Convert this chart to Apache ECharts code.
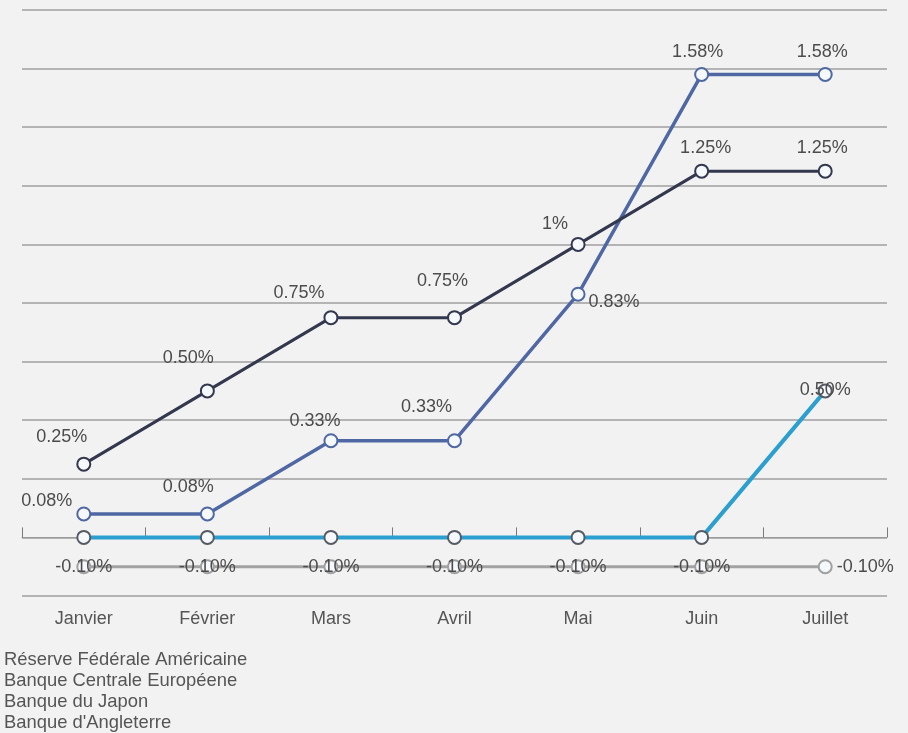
<!DOCTYPE html>
<html>
<head>
<meta charset="utf-8">
<style>
  html, body { margin: 0; padding: 0; background: #f2f2f2; }
  #chart { width: 908px; height: 733px; }
</style>
<script src="https://cdn.jsdelivr.net/npm/echarts@6/dist/echarts.min.js"></script>
</head>
<body>
<div id="chart"></div>
<script>
// Months shown on the horizontal axis
var months = ['Janvier', 'Février', 'Mars', 'Avril', 'Mai', 'Juin', 'Juillet'];

// Policy rates (%) per central bank
var fedRates = [0.25, 0.50, 0.75, 0.75, 1, 1.25, 1.25];
var ecbRates = [0, 0, 0, 0, 0, 0, 0.50];
var bojRates = [-0.10, -0.10, -0.10, -0.10, -0.10, -0.10, -0.10];
var boeRates = [0.08, 0.08, 0.33, 0.33, 0.83, 1.58, 1.58];

var seriesNames = [
  'Réserve Fédérale Américaine',
  'Banque Centrale Européene',
  'Banque du Japon',
  "Banque d'Angleterre"
];

// Value axis range
var yMin = -0.2, yMax = 1.8, yStep = 0.2;

// Label placement (pixel shifts from each point, kept apart from the data)
var fedLabelShift = [[-22, -27], [-19, -33], [-32, -25], [-12, -37], [-23, -20], [4, -23], [-3, -23]];
var boeLabelShift = [[-37, -13], [-19, -27], [-16, -20], [-28, -34], [36, 8], [-4, -22], [-3, -22]];
var bojLabelShift = [[0, 0], [0, 0], [0, 0], [0, 0], [0, 0], [0, 0], [40, 0]];
var ecbLabelShift = [[0, 0], [0, 0], [0, 0], [0, 0], [0, 0], [0, 0], [0, -1]];

var FONT = '"Liberation Sans", Arial, sans-serif';
var TEXT = '#4c4c4c';

function pct(v) {
  return (Number.isInteger(v) ? String(v) : v.toFixed(2)) + '%';
}

function buildData(values, shifts, hideZero) {
  return values.map(function (v, i) {
    return {
      value: v,
      label: {
        show: !(hideZero && v === 0),
        offset: shifts[i]
      }
    };
  });
}

function lineSeries(name, values, shifts, color, borderColor, width, z, hideZero) {
  return {
    name: name,
    type: 'line',
    data: buildData(values, shifts, hideZero),
    z: z,
    symbol: 'circle',
    symbolSize: 13,
    lineStyle: { color: color, width: width },
    itemStyle: { color: '#f5f9fe', borderColor: borderColor, borderWidth: 2 },
    label: {
      show: true,
      position: 'inside',
      color: TEXT,
      fontFamily: FONT,
      fontSize: 18,
      formatter: function (p) { return pct(p.value); }
    },
    emphasis: { disabled: true },
    animation: false
  };
}

var chart = echarts.init(document.getElementById('chart'), null, { renderer: 'canvas' });

chart.setOption({
  backgroundColor: '#f2f2f2',
  animation: false,
  textStyle: { fontFamily: FONT },
  grid: { left: 22, right: 21, top: 10, bottom: 137, containLabel: false },
  legend: {
    show: true,
    orient: 'vertical',
    left: -2,
    top: 649,
    height: 100,
    padding: 0,
    itemGap: 0,
    itemWidth: 0,
    itemHeight: 0,
    icon: 'rect',
    selectedMode: false,
    data: seriesNames,
    textStyle: { color: '#555555', fontSize: 18.4, lineHeight: 21, fontFamily: FONT }
  },
  xAxis: [
    {
      type: 'category',
      data: months,
      boundaryGap: true,
      axisLine: { show: true, onZero: true, lineStyle: { color: '#9a9a9a', width: 1 } },
      axisTick: { show: true, inside: true, length: 10, lineStyle: { color: '#7a7a7a' } },
      axisLabel: { show: false },
      splitLine: { show: false },
      z: 3
    },
    {
      type: 'category',
      data: months,
      position: 'bottom',
      boundaryGap: true,
      axisLine: { show: false, onZero: false },
      axisTick: { show: false },
      axisLabel: { show: true, margin: 14, color: '#555555', fontSize: 18, fontFamily: FONT },
      splitLine: { show: false }
    }
  ],
  yAxis: {
    type: 'value',
    min: yMin,
    max: yMax,
    interval: yStep,
    axisLine: { show: false },
    axisTick: { show: false },
    axisLabel: { show: false },
    splitLine: { show: true, lineStyle: { color: '#b4b4b4', width: 2 } }
  },
  series: [
    lineSeries(seriesNames[0], fedRates, fedLabelShift, '#33384f', '#33384f', 3, 5, false),
    lineSeries(seriesNames[1], ecbRates, ecbLabelShift, '#2b9fcf', '#555a63', 4, 3, true),
    lineSeries(seriesNames[2], bojRates, bojLabelShift, '#a2a2a2', '#a0a0a0', 3, 2, false),
    lineSeries(seriesNames[3], boeRates, boeLabelShift, '#4f68a4', '#4f68a4', 3.5, 4, false)
  ]
});
</script>
</body>
</html>
